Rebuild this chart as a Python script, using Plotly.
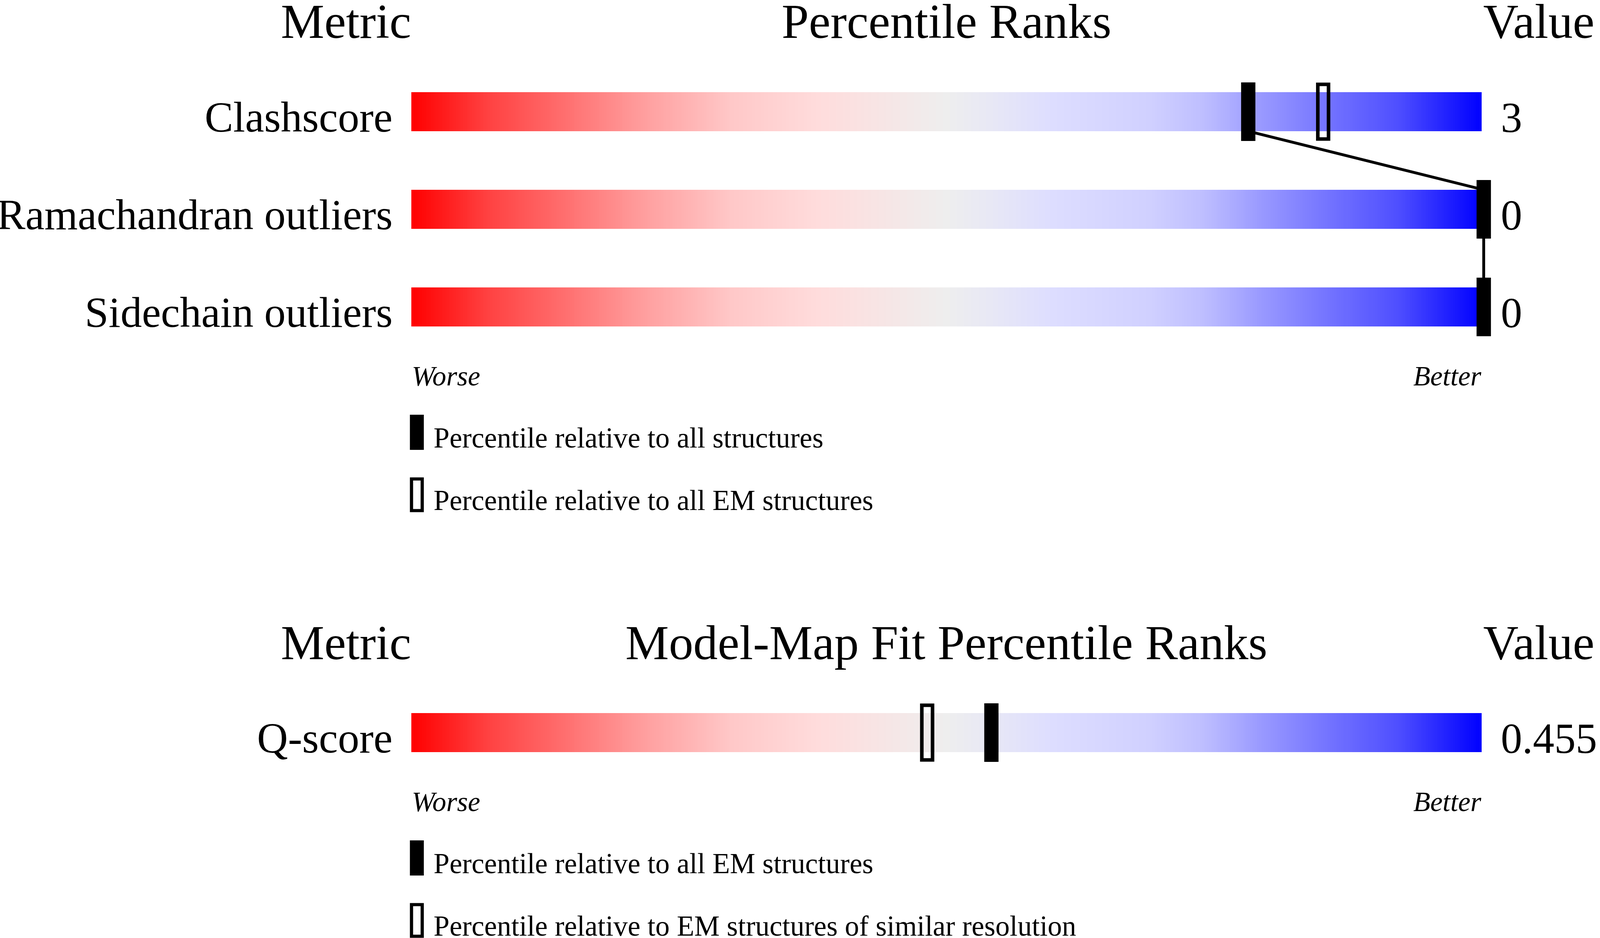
import numpy as np
import plotly.graph_objects as go

# --- datos ---
metrics_geo = ['Clashscore', 'Ramachandran outliers', 'Sidechain outliers']
values_geo = ['3', '0', '0']
pct_all = [78, 100, 100]      # percentil frente a todas las estructuras
pct_em = [85, 100, 100]       # percentil frente a estructuras EM

metrics_fit = ['Q-score']
values_fit = ['0.455']
pct_em_fit = [54]             # frente a todas las estructuras EM
pct_res_fit = [48]            # frente a EM de resolucion similar

titles = ['Percentile Ranks', 'Model-Map Fit Percentile Ranks']
legend_geo = ['Percentile relative to all structures',
              'Percentile relative to all EM structures']
legend_fit = ['Percentile relative to all EM structures',
              'Percentile relative to EM structures of similar resolution']

# --- estilo / geometria (en pixeles de la imagen de referencia) ---
W, H = 4485, 2402
VIEW_W = 4096                # ancho real de la ventana (px CSS)
S = VIEW_W / W               # escala horizontal -> fuentes y grosores
X0, PX = 1153, 30            # pixel del percentil 0, pixeles por percentil
FONT = 'Liberation Serif, Times New Roman, serif'
BAR_H = 100
ROW_STEP = 250
MARK_W = 40 / PX
MARK_H = 150
MARK_SHIFT = 0.2
LINE_W = 8

colorscale = [
    [0.00, '#FF0000'], [0.07, '#FF4040'], [0.13, '#FF6666'], [0.22, '#FFA0A0'],
    [0.30, '#FFC8C8'], [0.38, '#FFDCDC'], [0.46, '#F4E8E8'], [0.50, '#EEEEEE'],
    [0.54, '#E8E8F5'], [0.60, '#DDDDFF'], [0.69, '#D0D0FF'], [0.74, '#BEBEFF'],
    [0.79, '#9C9CFF'], [0.85, '#7777FF'], [0.92, '#5050FF'], [0.96, '#2828FF'],
    [1.00, '#0000FF'],
]
edges = np.linspace(0, 100, 601)
mids = (edges[:-1] + edges[1:]) / 2


def px(v):
    return (v - X0) / PX


fig = go.Figure()
annotations = []
shapes = []


def text(x, base, s, size, anchor='left'):
    # y dado como linea base del texto
    annotations.append(dict(
        x=x, y=base - 0.3375 * size * S, text=s, xanchor=anchor, yanchor='middle',
        showarrow=False, borderpad=0,
        font=dict(family=FONT, size=size * S, color='black')))


def marker(p, c, filled):
    xc = p + MARK_SHIFT
    if filled:
        shapes.append(dict(type='rect', xref='x', yref='y',
                           x0=xc - MARK_W / 2, x1=xc + MARK_W / 2,
                           y0=c - MARK_H / 2, y1=c + MARK_H / 2,
                           fillcolor='black', line=dict(width=0)))
    else:
        ix, iy = 5 / PX, 5
        shapes.append(dict(type='rect', xref='x', yref='y',
                           x0=xc - MARK_W / 2 + ix, x1=xc + MARK_W / 2 - ix,
                           y0=c - MARK_H / 2 + iy, y1=c + MARK_H / 2 - iy,
                           fillcolor='rgba(0,0,0,0)',
                           line=dict(color='black', width=10 * S)))


def section(title, header_base, first_center, names, vals, pct_a, pct_b, legend):
    text(px(970), header_base, 'Metric', 137, 'center')
    text(50, header_base, title, 137, 'center')
    text(px(4156), header_base, 'Value', 137, 'left')

    centers = [first_center + i * ROW_STEP for i in range(len(names))]
    for c, name, val in zip(centers, names, vals):
        fig.add_trace(go.Heatmap(
            x=edges, y=[c - BAR_H / 2, c + BAR_H / 2], z=[mids],
            colorscale=colorscale, zmin=0, zmax=100, showscale=False,
            hoverinfo='skip'))
        text(px(1102), c + 51, name, 120, 'right')
        text(px(4206), c + 52, val, 120, 'left')

    # linea que une los marcadores negros
    if len(names) > 1:
        lx, ly = [], []
        for i, (c, p) in enumerate(zip(centers, pct_a)):
            if i > 0:
                lx.append(p + MARK_SHIFT)
                ly.append(c - BAR_H / 2)
            if i < len(centers) - 1:
                lx.append(p + MARK_SHIFT)
                ly.append(c + BAR_H / 2)
        fig.add_trace(go.Scatter(x=lx, y=ly, mode='lines',
                                 line=dict(color='black', width=LINE_W * S),
                                 hoverinfo='skip', showlegend=False))

    for c, p in zip(centers, pct_b):
        marker(p, c, False)
    for c, p in zip(centers, pct_a):
        marker(p, c, True)

    bottom = centers[-1] + BAR_H / 2
    text(0, bottom + 151, '<i>Worse</i>', 78, 'left')
    text(100, bottom + 151, '<i>Better</i>', 78, 'right')

    # leyenda
    lx0, lx1 = px(1149), px(1188)
    shapes.append(dict(type='rect', xref='x', yref='y', x0=lx0, x1=lx1,
                       y0=bottom + 226, y1=bottom + 316,
                       fillcolor='black', line=dict(width=0)))
    shapes.append(dict(type='rect', xref='x', yref='y',
                       x0=lx0 + 4.5 / PX, x1=lx1 - 4.5 / PX,
                       y0=bottom + 390.5, y1=bottom + 471.5,
                       fillcolor='rgba(0,0,0,0)',
                       line=dict(color='black', width=9 * S)))
    text(px(1214), bottom + 310, legend[0], 80, 'left')
    text(px(1214), bottom + 470, legend[1], 80, 'left')


section(titles[0], 97, 286, metrics_geo, values_geo, pct_all, pct_em, legend_geo)
section(titles[1], 1688, 1876, metrics_fit, values_fit, pct_em_fit, pct_res_fit, legend_fit)

# sin width/height: la figura ocupa toda la ventana
fig.update_layout(
    autosize=True,
    margin=dict(l=0, r=0, t=0, b=0, pad=0),
    paper_bgcolor='white', plot_bgcolor='white',
    showlegend=False, hovermode=False,
    annotations=annotations, shapes=shapes,
    xaxis=dict(visible=False, range=[px(0), px(W)], fixedrange=True),
    yaxis=dict(visible=False, range=[H, 0], fixedrange=True),
)

fig.write_html("out.html", config={'displayModeBar': False},
               default_width='100vw', default_height='100vh',
               post_script="document.body.style.margin='0';document.body.style.overflow='hidden';")
